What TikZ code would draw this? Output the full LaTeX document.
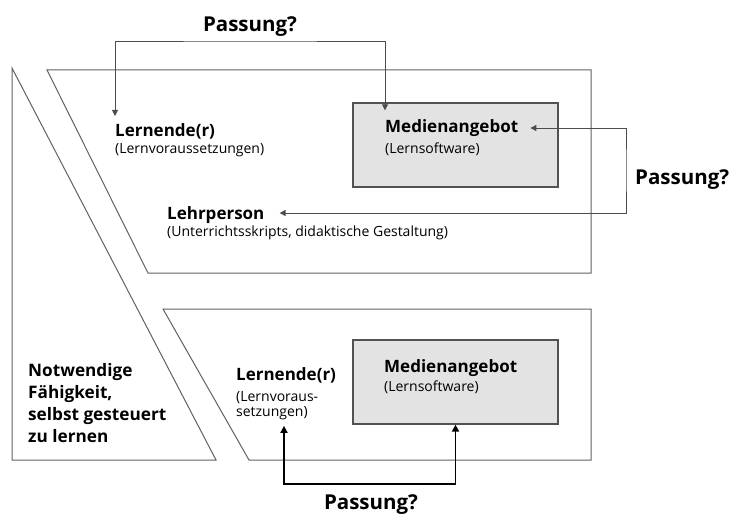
\documentclass[tikz,border=0pt]{standalone}
\usepackage{fontspec}
\setmainfont{Open Sans}
\usetikzlibrary{arrows.meta}
\tikzset{
  frame/.style={draw=black!62, line width=1pt},
  greybox/.style={draw=black!68, fill=black!11, line width=1.3pt, inner sep=0pt},
  title/.style={font=\bfseries\fontsize{17}{19}\selectfont, inner sep=0pt, anchor=west},
  sub/.style={font=\fontsize{14}{15}\selectfont, inner sep=0pt, anchor=west, align=left},
  passlbl/.style={font=\bfseries\fontsize{20.5}{22}\selectfont, inner sep=0pt},
  thinboth/.style={draw=black!70, line width=0.9pt, {Triangle[length=6pt,width=6pt]}-{Triangle[length=6pt,width=6pt]}},
  thickboth/.style={draw=black, line width=1.8pt, {Triangle[length=7pt,width=7pt]}-{Triangle[length=7pt,width=7pt]}}
}
\begin{document}
\begin{tikzpicture}[x=1pt,y=-1pt]
\useasboundingbox (0,0) rectangle (734,516);
% left trapezoid
\draw[frame] (12,68) -- (12,460) -- (216,460) -- cycle;
% frames
\draw[frame] (47,70) -- (591,70) -- (591,273) -- (148,273) -- cycle;
\draw[frame] (163,309) -- (591,309) -- (591,460) -- (249,460) -- cycle;
% grey boxes
\node[greybox, minimum width=205pt, minimum height=84pt] (box1) at (455.5,145) {};
\node[greybox, minimum width=205pt, minimum height=84pt] (box2) at (455.5,382) {};
% texts upper
\node[title] (lern1) at (115,131) {Lernende(r)};
\node[sub] (lern1s) at (115,150) {(Lernvoraussetzungen)};
\node[title] (med1) at (385,128) {Medienangebot};
\node[sub] (med1s) at (385,149) {(Lernsoftware)};
\node[title] (lehr) at (167,215) {Lehrperson};
\node[sub] (lehrs) at (167,233) {(Unterrichtsskripts, didaktische Gestaltung)};
% left text
\node[font=\bfseries\fontsize{17.2}{22}\selectfont, inner sep=0pt, anchor=west, align=left] (notw) at (28,403)
  {Notwendige\\Fähigkeit,\\selbst gesteuert\\zu lernen};
% lower texts
\node[title] (lern2) at (236,375) {Lernende(r)};
\node[sub] (lern2s) at (236,405.5) {(Lernvoraus-\\setzungen)};
\node[title] (med2) at (384,368) {Medienangebot};
\node[sub] (med2s) at (384,387) {(Lernsoftware)};
% Passung labels
\node[passlbl] (p1) at (250,27) {Passung?};
\node[passlbl, anchor=west] (p2) at (635,180) {Passung?};
\node[passlbl] (p3) at (371,505) {Passung?};
% connectors
\coordinate (c1) at (250,41);
\coordinate (c2) at (626,170);
\coordinate (c3) at (370,484);
\draw[thinboth] ([yshift=7pt]lern1.north west) |- (c1) -| ([yshift=9pt]med1.north west);
\draw[thinboth] ([xshift=12pt]med1.east) -| (c2) |- ([xshift=15pt,yshift=2pt]lehr.east);
\draw[thickboth] ([xshift=48pt,yshift=-6pt]lern2s.south west) |- (c3) -| (box2.south);
\end{tikzpicture}
\end{document}
